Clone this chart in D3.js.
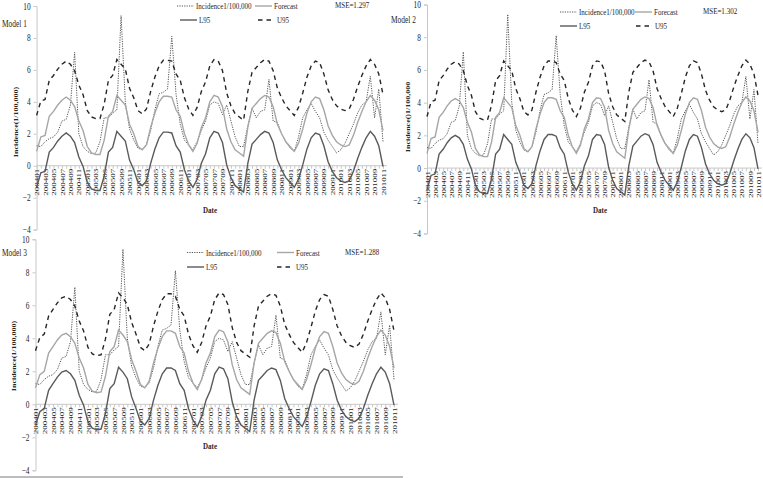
<!DOCTYPE html>
<html>
<head>
<meta charset="utf-8">
<script src="https://cdn.jsdelivr.net/npm/d3@7"></script>
<style>
  body { margin: 0; background: #fff; }
  text { font-family: "Liberation Serif", "Times New Roman", serif; fill: #262626; }
</style>
</head>
<body>
<svg id="chart" width="763" height="478"></svg>
<script>
"use strict";

// month categories (200401 .. 201011)
var months = ["200401","200402","200403","200404","200405","200406","200407","200408","200409","200410","200411","200412",
  "200501","200502","200503","200504","200505","200506","200507","200508","200509","200510","200511","200512",
  "200601","200602","200603","200604","200605","200606","200607","200608","200609","200610","200611","200612",
  "200701","200702","200703","200704","200705","200706","200707","200708","200709","200710","200711","200712",
  "200801","200802","200803","200804","200805","200806","200807","200808","200809","200810","200811","200812",
  "200901","200902","200903","200904","200905","200906","200907","200908","200909","200910","200911","200912",
  "201001","201002","201003","201004","201005","201006","201007","201008","201009","201010","201011"];

var yTicks = [-4, -2, 0, 2, 4, 6, 8, 10];

// observed incidence (same in all three panels)
var incidence = [1.25,1.2,1.5,1.7,1.8,2.1,2.8,2.9,3.8,7.1,2.0,1.2,
  0.9,0.75,0.8,1.5,3.0,3.0,3.3,3.5,9.4,4.0,2.3,1.6,
  1.1,1.0,1.3,2.2,3.5,4.5,4.6,4.8,8.1,4.5,2.6,1.6,
  1.3,1.0,1.5,2.2,2.8,3.8,4.0,3.9,3.2,3.8,2.8,1.8,
  1.2,1.2,2.5,3.6,3.0,3.4,3.5,5.4,2.8,2.7,2.0,1.5,
  1.1,0.9,1.8,3.0,3.5,3.9,3.4,3.0,2.1,1.6,1.2,0.8,
  1.0,1.4,2.0,2.6,3.3,3.8,4.0,5.6,3.0,4.8,1.5];

// Model 1
var forecast1 = [0.9,1.8,1.9,3.1,3.4,3.8,4.1,4.3,4.1,3.7,2.8,2.2,
  1.2,0.8,0.7,0.7,1.6,3.1,3.4,4.4,4.1,3.8,2.6,2.0,
  1.2,1.0,1.3,2.4,3.3,4.0,4.35,4.35,4.3,3.5,3.1,2.0,
  1.3,0.9,1.4,2.4,3.0,4.0,4.4,4.3,3.7,2.3,1.5,1.0,
  0.8,0.6,2.4,3.6,3.9,4.2,4.4,4.3,3.7,2.6,2.0,1.5,
  1.2,0.9,1.4,2.3,3.3,4.0,4.3,4.2,3.5,2.5,1.9,1.5,
  1.3,1.2,1.3,1.9,2.7,3.4,4.0,4.4,4.1,3.5,2.2];
var lower1 = [-1.35,-0.45,-0.35,0.85,1.15,1.55,1.85,2.05,1.85,1.45,0.55,-0.05,
  -1.05,-1.45,-1.55,-1.55,-0.65,0.85,1.15,2.15,1.85,1.55,0.35,-0.25,
  -1.05,-1.25,-0.95,0.15,1.05,1.75,2.1,2.1,2.05,1.25,0.85,-0.25,
  -0.95,-1.35,-0.85,0.15,0.75,1.75,2.15,2.05,1.45,0.05,-0.75,-1.25,
  -1.45,-1.65,0.15,1.35,1.65,1.95,2.15,2.05,1.45,0.35,-0.25,-0.75,
  -1.05,-1.35,-0.85,0.05,1.05,1.75,2.05,1.95,1.25,0.25,-0.35,-0.75,
  -0.95,-1.05,-0.95,-0.35,0.45,1.15,1.75,2.15,1.85,1.25,-0.05];
var upper1 = [3.15,4.05,4.15,5.35,5.65,6.05,6.35,6.55,6.35,5.95,5.05,4.45,
  3.45,3.05,2.95,2.95,3.85,5.35,5.65,6.65,6.35,6.05,4.85,4.25,
  3.45,3.25,3.55,4.65,5.55,6.25,6.6,6.6,6.55,5.75,5.35,4.25,
  3.55,3.15,3.65,4.65,5.25,6.25,6.65,6.55,5.95,4.55,3.75,3.25,
  3.05,2.85,4.65,5.85,6.15,6.45,6.65,6.55,5.95,4.85,4.25,3.75,
  3.45,3.15,3.65,4.55,5.55,6.25,6.55,6.45,5.75,4.75,4.15,3.75,
  3.55,3.45,3.55,4.15,4.95,5.65,6.25,6.65,6.35,5.75,4.45];

// Model 2
var forecast2 = [0.9,1.8,1.9,3.1,3.4,3.8,4.1,4.25,4.1,3.7,2.8,2.2,
  1.2,0.8,0.7,0.7,1.6,3.1,3.4,4.3,4.0,3.7,2.6,2.0,
  1.2,1.0,1.3,2.4,3.3,4.0,4.3,4.3,4.2,3.5,3.1,2.0,
  1.3,0.9,1.4,2.4,3.0,4.0,4.3,4.25,3.7,2.3,1.5,1.0,
  0.8,0.6,2.4,3.6,3.9,4.2,4.35,4.25,3.7,2.6,2.0,1.5,
  1.2,0.9,1.4,2.3,3.3,4.0,4.3,4.2,3.5,2.5,1.9,1.5,
  1.3,1.2,1.3,1.9,2.7,3.4,4.0,4.35,4.1,3.5,2.2];
var lower2 = [-1.35,-0.45,-0.35,0.85,1.15,1.55,1.85,2.0,1.85,1.45,0.55,-0.05,
  -1.05,-1.45,-1.55,-1.55,-0.65,0.85,1.15,2.05,1.75,1.45,0.35,-0.25,
  -1.05,-1.25,-0.95,0.15,1.05,1.75,2.05,2.05,1.95,1.25,0.85,-0.25,
  -0.95,-1.35,-0.85,0.15,0.75,1.75,2.05,2.0,1.45,0.05,-0.75,-1.25,
  -1.45,-1.65,0.15,1.35,1.65,1.95,2.1,2.0,1.45,0.35,-0.25,-0.75,
  -1.05,-1.35,-0.85,0.05,1.05,1.75,2.05,1.95,1.25,0.25,-0.35,-0.75,
  -0.95,-1.05,-0.95,-0.35,0.45,1.15,1.75,2.1,1.85,1.25,-0.05];
var upper2 = [3.15,4.05,4.15,5.35,5.65,6.05,6.35,6.5,6.35,5.95,5.05,4.45,
  3.45,3.05,2.95,2.95,3.85,5.35,5.65,6.55,6.25,5.95,4.85,4.25,
  3.45,3.25,3.55,4.65,5.55,6.25,6.55,6.55,6.45,5.75,5.35,4.25,
  3.55,3.15,3.65,4.65,5.25,6.25,6.55,6.5,5.95,4.55,3.75,3.25,
  3.05,2.85,4.65,5.85,6.15,6.45,6.6,6.5,5.95,4.85,4.25,3.75,
  3.45,3.15,3.65,4.55,5.55,6.25,6.55,6.45,5.75,4.75,4.15,3.75,
  3.55,3.45,3.55,4.15,4.95,5.65,6.25,6.6,6.35,5.75,4.45];

// Model 3
var forecast3 = [1.0,1.8,2.0,3.1,3.5,3.9,4.2,4.3,4.1,3.7,2.8,2.2,
  1.2,0.8,0.7,0.75,1.7,3.2,3.5,4.5,4.2,3.8,2.7,2.0,
  1.2,1.0,1.4,2.5,3.4,4.1,4.45,4.45,4.3,3.5,3.1,2.0,
  1.3,0.9,1.5,2.5,3.1,4.1,4.5,4.4,3.8,2.4,1.5,1.0,
  0.8,0.6,2.5,3.7,4.0,4.3,4.45,4.35,3.7,2.6,2.0,1.5,
  1.2,0.9,1.5,2.4,3.4,4.1,4.4,4.3,3.5,2.5,1.9,1.5,
  1.3,1.2,1.4,2.0,2.8,3.5,4.1,4.5,4.2,3.5,2.2];
var lower3 = [-1.25,-0.45,-0.25,0.85,1.25,1.65,1.95,2.05,1.85,1.45,0.55,-0.05,
  -1.05,-1.45,-1.55,-1.5,-0.55,0.95,1.25,2.25,1.95,1.55,0.45,-0.25,
  -1.05,-1.25,-0.85,0.25,1.15,1.85,2.2,2.2,2.05,1.25,0.85,-0.25,
  -0.95,-1.35,-0.75,0.25,0.85,1.85,2.25,2.15,1.55,0.15,-0.75,-1.25,
  -1.45,-1.65,0.25,1.45,1.75,2.05,2.2,2.1,1.45,0.35,-0.25,-0.75,
  -1.05,-1.35,-0.75,0.15,1.15,1.85,2.15,2.05,1.25,0.25,-0.35,-0.75,
  -0.95,-1.05,-0.85,-0.25,0.55,1.25,1.85,2.25,1.95,1.25,-0.05];
var upper3 = [3.25,4.05,4.25,5.35,5.75,6.15,6.45,6.55,6.35,5.95,5.05,4.45,
  3.45,3.05,2.95,3.0,3.95,5.45,5.75,6.75,6.45,6.05,4.95,4.25,
  3.45,3.25,3.65,4.75,5.65,6.35,6.7,6.7,6.55,5.75,5.35,4.25,
  3.55,3.15,3.75,4.75,5.35,6.35,6.75,6.65,6.05,4.65,3.75,3.25,
  3.05,2.85,4.75,5.95,6.25,6.55,6.7,6.6,5.95,4.85,4.25,3.75,
  3.45,3.15,3.75,4.65,5.65,6.35,6.65,6.55,5.75,4.75,4.15,3.75,
  3.55,3.45,3.65,4.25,5.05,5.75,6.35,6.75,6.45,5.75,4.45];

var panels = [
  { model: "Model 1", mse: "MSE=1.297", ytitle: "Incidence(1/100,000)",
    forecast: forecast1, lower: lower1, upper: upper1,
    left: 36.6, right: 383, top: 6, bottom: 229.6,
    modelX: 2, modelY: 24, ytitleX: 16, ytitleY: 122, dateX: 210, dateY: 210,
    leg: { x1: 177, x2: 255, x3: 335, y1: 6, y2: 20, l2x1: 180, l2x2: 258 } },
  { model: "Model 2", mse: "MSE=1.302", ytitle: "Incidence()1/100,000",
    forecast: forecast2, lower: lower2, upper: upper2,
    left: 427, right: 758, top: 4.5, bottom: 233.5,
    modelX: 391, modelY: 20, ytitleX: 408, ytitleY: 117, dateX: 600, dateY: 210,
    leg: { x1: 560, x2: 635, x3: 703, y1: 12, y2: 26, l2x1: 560, l2x2: 636 } },
  { model: "Model 3", mse: "MSE=1.288", ytitle: "Incidence(1/100,000)",
    forecast: forecast3, lower: lower3, upper: upper3,
    left: 35.5, right: 394, top: 239.3, bottom: 470.3,
    modelX: 2, modelY: 253, ytitleX: 14, ytitleY: 356, dateX: 210, dateY: 446,
    leg: { x1: 187, x2: 277, x3: 345, y1: 252.5, y2: 267, l2x1: 187, l2x2: 277 } }
];

var svg = d3.select("#chart");
var sx = 0.78; // text in the picture is horizontally squeezed

function addText(g, x, y, txt, size, weight, anchor) {
  return g.append("text")
    .attr("transform", "translate(" + x + "," + y + ") scale(" + sx + ",1)")
    .attr("font-size", size)
    .attr("font-weight", weight || "normal")
    .attr("text-anchor", anchor || "start")
    .attr("dy", "0.35em")
    .text(txt);
}

panels.forEach(function(p) {
  var g = svg.append("g");

  var x = d3.scalePoint().domain(months).range([p.left, p.right]);
  var y = d3.scaleLinear().domain([-4, 10]).range([p.bottom, p.top]);

  // y axis
  var ya = g.append("g")
    .attr("transform", "translate(" + p.left + ",0)")
    .call(d3.axisLeft(y).tickValues(yTicks).tickSize(3).tickFormat(d3.format("d")));
  ya.select(".domain").attr("stroke", "#c8c8c8");
  ya.selectAll(".tick line").attr("stroke", "#c8c8c8");
  ya.selectAll(".tick text")
    .attr("x", 0)
    .attr("transform", "translate(-6,0) scale(" + sx + ",1)")
    .attr("font-family", "Liberation Serif")
    .attr("font-size", 9.5)
    .attr("fill", "#404040");

  // x axis at zero
  var xa = g.append("g")
    .attr("transform", "translate(0," + y(0) + ")")
    .call(d3.axisBottom(x).tickSize(3).tickSizeOuter(0)
      .tickFormat(function(d, i) { return i % 2 === 0 ? d : ""; }));
  xa.select(".domain").attr("stroke", "#c8c8c8").attr("d", "M" + p.left + ",0H" + (p.right + 4));
  xa.selectAll(".tick line").attr("stroke", "#c8c8c8");
  xa.selectAll(".tick text")
    .attr("x", 0).attr("y", 0).attr("dy", null)
    .attr("transform", "rotate(-90) translate(-3,0) scale(1,0.75)")
    .attr("dominant-baseline", "central")
    .attr("text-anchor", "end")
    .attr("font-family", "Liberation Serif")
    .attr("font-size", 9)
    .attr("fill", "#595959");

  var line = d3.line()
    .x(function(d, i) { return x(months[i]); })
    .y(function(d) { return y(d); });

  g.append("path").datum(incidence).attr("d", line)
    .attr("fill", "none").attr("stroke", "#555").attr("stroke-width", 1)
    .attr("stroke-dasharray", "1.2,1.2");
  g.append("path").datum(p.forecast).attr("d", line)
    .attr("fill", "none").attr("stroke", "#a6a6a6").attr("stroke-width", 1.4);
  g.append("path").datum(p.lower).attr("d", line)
    .attr("fill", "none").attr("stroke", "#5a5a5a").attr("stroke-width", 1.4);
  g.append("path").datum(p.upper).attr("d", line)
    .attr("fill", "none").attr("stroke", "#262626").attr("stroke-width", 1.4)
    .attr("stroke-dasharray", "4.5,4");

  // titles
  addText(g, p.modelX, p.modelY, p.model, 9.5);
  addText(g, p.dateX, p.dateY, "Date", 9, "bold", "middle");
  g.append("text")
    .attr("transform", "translate(" + p.ytitleX + "," + p.ytitleY + ") rotate(-90) scale(1," + sx + ")")
    .attr("text-anchor", "middle").attr("dy", "0.35em")
    .attr("font-size", 8).attr("font-weight", "bold")
    .text(p.ytitle);

  // legend
  var L = p.leg;
  function sample(x0, yy, stroke, w, dash) {
    g.append("line").attr("x1", x0).attr("x2", x0 + 17).attr("y1", yy).attr("y2", yy)
      .attr("stroke", stroke).attr("stroke-width", w).attr("stroke-dasharray", dash || null);
  }
  sample(L.x1, L.y1, "#555", 1, "1.2,1.2");
  addText(g, L.x1 + 19, L.y1, "Incidence1/100,000", 9);
  sample(L.x2, L.y1, "#a6a6a6", 1.4);
  addText(g, L.x2 + 19, L.y1, "Forecast", 9);
  addText(g, L.x3, L.y1 - 1, p.mse, 9);
  sample(L.l2x1, L.y2, "#5a5a5a", 1.4);
  addText(g, L.l2x1 + 19, L.y2, "L95", 9);
  sample(L.l2x2, L.y2, "#262626", 1.4, "4.5,4");
  addText(g, L.l2x2 + 19, L.y2, "U95", 9);
});

// frame line at the bottom of the picture
svg.append("line").attr("x1", 0).attr("x2", 403).attr("y1", 477).attr("y2", 477)
  .attr("stroke", "#a6a6a6").attr("stroke-width", 1.5);
</script>
</body>
</html>
